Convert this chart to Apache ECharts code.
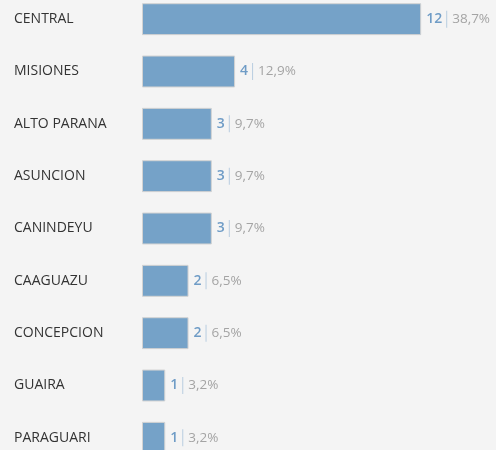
<!DOCTYPE html>
<html>
<head>
<meta charset="utf-8">
<script src="https://cdn.jsdelivr.net/npm/echarts@6/dist/echarts.min.js"></script>
<style>
  html, body { margin: 0; padding: 0; background: #f4f4f4; }
  #chart { width: 496px; height: 450px; }
</style>
</head>
<body>
<div id="chart"></div>
<script>
const departments = ['CENTRAL', 'MISIONES', 'ALTO PARANA', 'ASUNCION', 'CANINDEYU', 'CAAGUAZU', 'CONCEPCION', 'GUAIRA', 'PARAGUARI']
const counts = [12, 4, 3, 3, 3, 2, 2, 1, 1]
const shares = ['38,7%', '12,9%', '9,7%', '9,7%', '9,7%', '6,5%', '6,5%', '3,2%', '3,2%']

const chart = echarts.init(document.getElementById('chart'))
chart.setOption({
  backgroundColor: '#f4f4f4',
  animation: false,
  grid: { left: 142, right: 5, top: -7, bottom: -14, outerBoundsMode: 'none' },
  xAxis: {
    type: 'value',
    min: 0,
    max: 15,
    show: false
  },
  yAxis: {
    type: 'category',
    inverse: true,
    data: departments,
    axisLine: { show: false },
    axisTick: { show: false },
    axisLabel: {
      align: 'left',
      margin: 128,
      color: '#333',
      fontSize: 14,
      fontFamily: 'Open Sans'
    }
  },
  series: [{
    type: 'bar',
    data: counts,
    barCategoryGap: '39%',
    itemStyle: {
      color: '#75a2c8',
      borderColor: '#d2d2d2',
      borderWidth: 1
    },
    label: {
      show: true,
      position: 'right',
      distance: 5,
      fontFamily: 'Open Sans',
      formatter: function (p) {
        return `{n|${p.value}}{s|}{p|${shares[p.dataIndex]}}`
      },
      rich: {
        n: { color: '#6f9cc6', fontSize: 14, fontWeight: 600, fontFamily: 'Open Sans', padding: [0, 4, 0, 0] },
        s: { width: 1, height: 17, backgroundColor: '#b8cde0' },
        p: { color: '#a4a4a4', fontSize: 13.5, fontFamily: 'Open Sans', padding: [0, 0, 0, 5] }
      }
    }
  }]
})
</script>
</body>
</html>
